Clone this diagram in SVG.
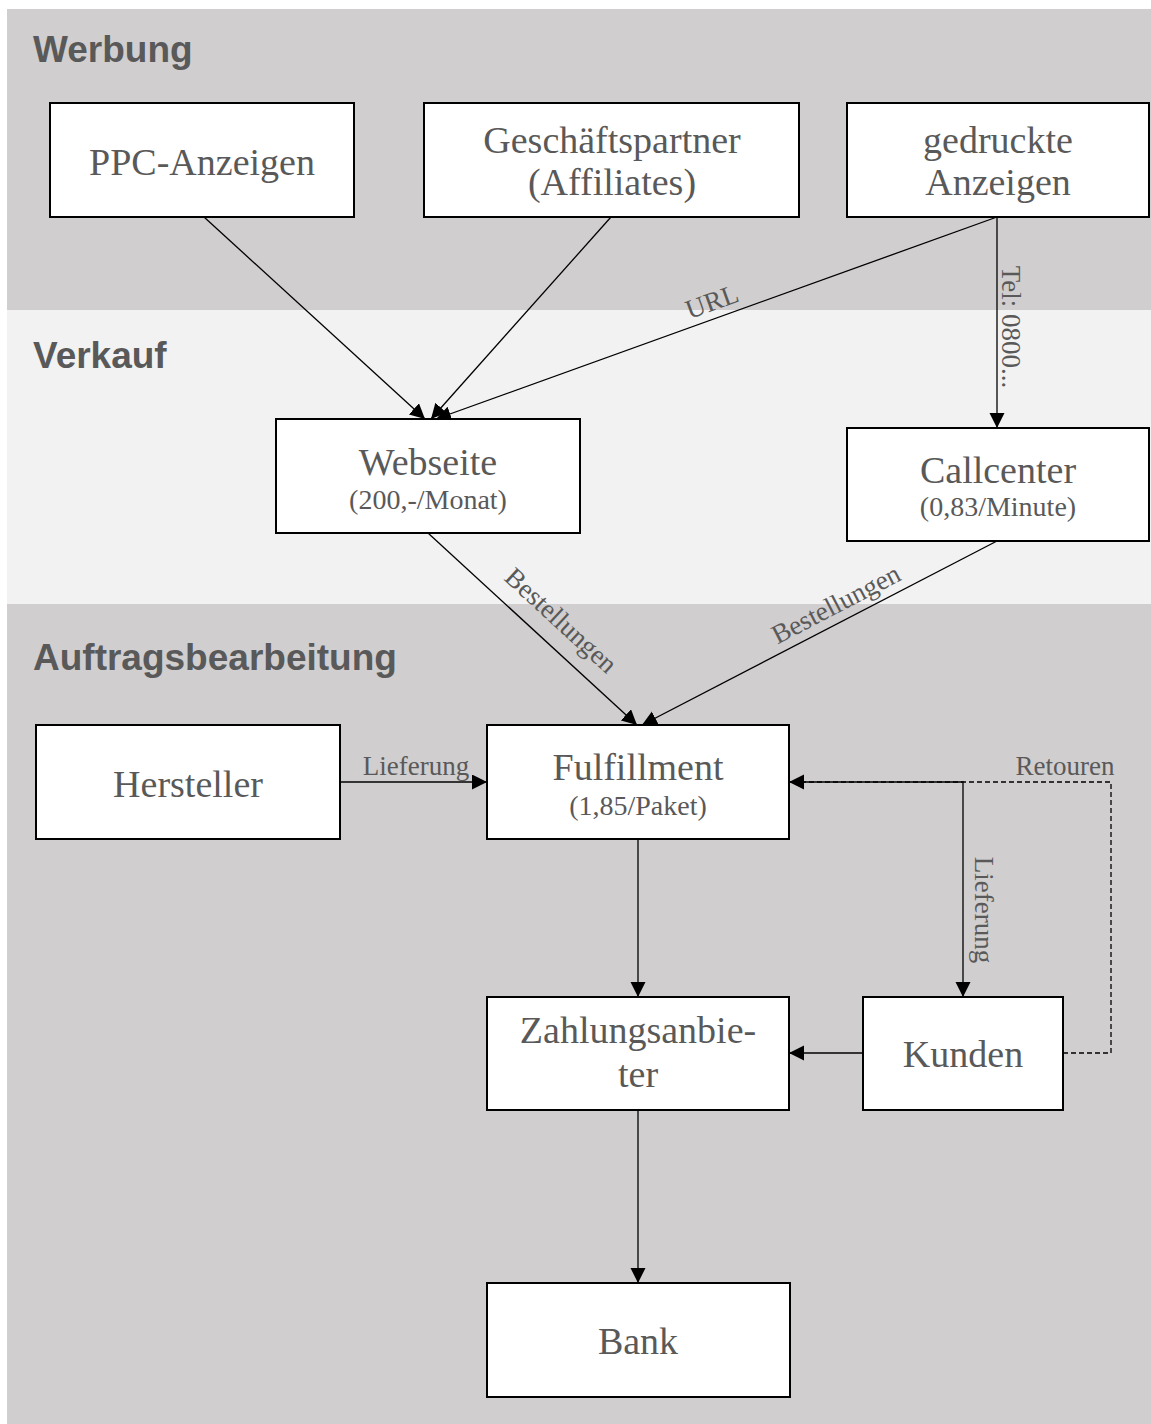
<svg xmlns="http://www.w3.org/2000/svg" width="1151" height="1424" viewBox="0 0 1151 1424">
<style>
.lane-dark{fill:#d0cecf}
.lane-light{fill:#f2f2f2}
.title{font-family:"Liberation Sans",Arial,sans-serif;font-weight:bold;font-size:37px;fill:#595959}
.box{fill:#ffffff;stroke:#000000;stroke-width:2}
.main{font-family:"Liberation Serif","Times New Roman",serif;font-size:38px;fill:#595959;text-anchor:middle}
.sub{font-family:"Liberation Serif","Times New Roman",serif;font-size:28px;fill:#595959;text-anchor:middle}
.lbl{font-family:"Liberation Serif","Times New Roman",serif;font-size:27px;fill:#595959;text-anchor:middle}
.edge{fill:none;stroke:#000000;stroke-width:1.3;marker-end:url(#arr)}
.dash{fill:none;stroke:#000000;stroke-width:1.3;stroke-dasharray:5,3;marker-end:url(#arr)}
</style>
<defs>
<marker id="arr" markerUnits="userSpaceOnUse" markerWidth="16" markerHeight="16" refX="15" refY="7.5" orient="auto">
<path d="M0,0 L15,7.5 L0,15 z" fill="#000000"/>
</marker>
</defs>
<g id="lanes">
<rect class="lane-dark" x="7" y="9" width="1144" height="301"/>
<rect class="lane-light" x="7" y="310" width="1144" height="294"/>
<rect class="lane-dark" x="7" y="604" width="1144" height="820"/>
<text class="title" x="33" y="62">Werbung</text>
<text class="title" x="33" y="368">Verkauf</text>
<text class="title" x="33" y="670">Auftragsbearbeitung</text>
</g>
<g id="connectors">
<path class="edge" d="M204,217 L425,419"/>
<path class="edge" d="M611,217 L431,419"/>
<path class="edge" d="M997,217 L436,419"/>
<path class="edge" d="M997,217 L997,428"/>
<path class="edge" d="M428,533 L637,725"/>
<path class="edge" d="M997,541 L642,725"/>
<path class="edge" d="M340,782 L487,782"/>
<path class="edge" d="M789,782 L963,782 L963,997"/>
<path class="dash" d="M1063,1053 L1111,1053 L1111,782 L789,782"/>
<path class="edge" d="M638,839 L638,997"/>
<path class="edge" d="M863,1053 L789,1053"/>
<path class="edge" d="M638,1110 L638,1283"/>
<text class="lbl" transform="translate(715,310) rotate(-19.8)">URL</text>
<text class="lbl" transform="translate(1002,327) rotate(90)">Tel: 0800...</text>
<text class="lbl" transform="translate(555,627) rotate(42.6)">Bestellungen</text>
<text class="lbl" transform="translate(840,612) rotate(-27.4)">Bestellungen</text>
<text class="lbl" x="416" y="775">Lieferung</text>
<text class="lbl" x="1065" y="775">Retouren</text>
<text class="lbl" transform="translate(975,910) rotate(90)">Lieferung</text>
</g>
<g id="ppc">
<rect class="box" x="50" y="103" width="304" height="114"/>
<text class="main" x="202" y="175">PPC-Anzeigen</text>
</g>
<g id="affiliates">
<rect class="box" x="424" y="103" width="375" height="114"/>
<text class="main" x="612" y="153">Geschäftspartner</text>
<text class="main" x="612" y="195">(Affiliates)</text>
</g>
<g id="print">
<rect class="box" x="847" y="103" width="302" height="114"/>
<text class="main" x="998" y="153">gedruckte</text>
<text class="main" x="998" y="195">Anzeigen</text>
</g>
<g id="webseite">
<rect class="box" x="276" y="419" width="304" height="114"/>
<text class="main" x="428" y="475">Webseite</text>
<text class="sub" x="428" y="509">(200,-/Monat)</text>
</g>
<g id="callcenter">
<rect class="box" x="847" y="428" width="302" height="113"/>
<text class="main" x="998" y="483">Callcenter</text>
<text class="sub" x="998" y="516">(0,83/Minute)</text>
</g>
<g id="hersteller">
<rect class="box" x="36" y="725" width="304" height="114"/>
<text class="main" x="188" y="797">Hersteller</text>
</g>
<g id="fulfillment">
<rect class="box" x="487" y="725" width="302" height="114"/>
<text class="main" x="638" y="780">Fulfillment</text>
<text class="sub" x="638" y="815">(1,85/Paket)</text>
</g>
<g id="zahlungsanbieter">
<rect class="box" x="487" y="997" width="302" height="113"/>
<text class="main" x="638" y="1043">Zahlungsanbie-</text>
<text class="main" x="638" y="1087">ter</text>
</g>
<g id="kunden">
<rect class="box" x="863" y="997" width="200" height="113"/>
<text class="main" x="963" y="1067">Kunden</text>
</g>
<g id="bank">
<rect class="box" x="487" y="1283" width="303" height="114"/>
<text class="main" x="638" y="1354">Bank</text>
</g>
</svg>
